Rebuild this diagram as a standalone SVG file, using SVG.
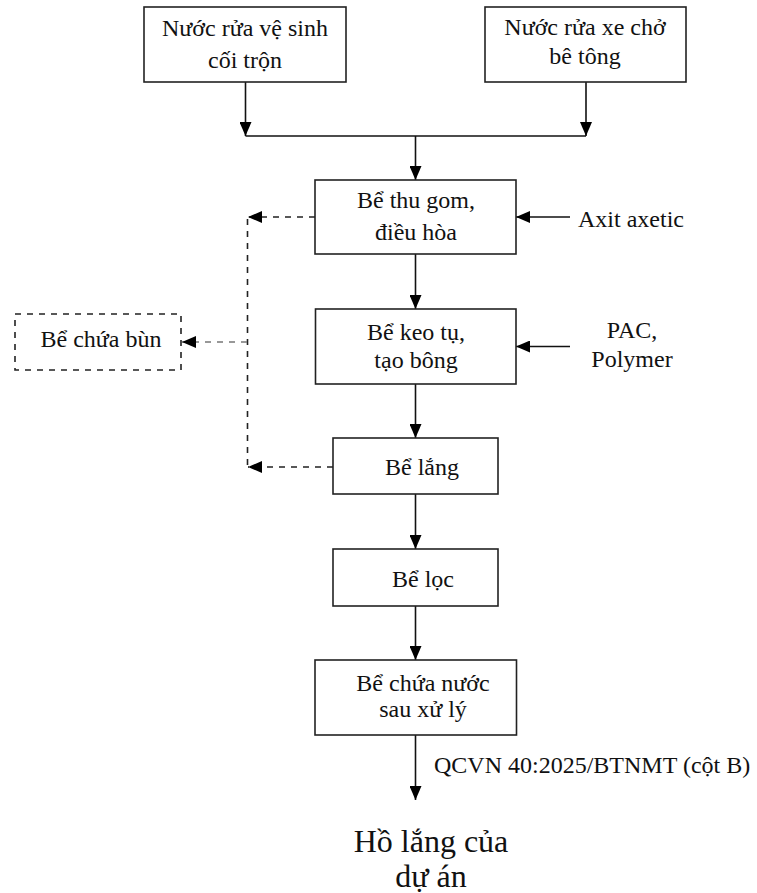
<svg xmlns="http://www.w3.org/2000/svg" width="757" height="893" viewBox="0 0 757 893">
<style>
  text { font-family: "Liberation Serif", "Times New Roman", serif; font-size: 24px; fill: #111; }
  .c { text-anchor: middle; }
  .box { fill: #fff; stroke: #222; stroke-width: 1.6; }
  .dbox { fill: #fff; stroke: #222; stroke-width: 1.6; stroke-dasharray: 6 6; }
  .ln { fill: none; stroke: #111; stroke-width: 1.6; }
  .dl { fill: none; stroke: #222; stroke-width: 1.6; stroke-dasharray: 6 6; }
  .gl { fill: none; stroke: #777; stroke-width: 1.6; stroke-dasharray: 6 6; }
  .big { font-size: 32px; }
</style>
<defs>
  <marker id="ah" viewBox="0 0 14 12" refX="14" refY="6" markerWidth="14" markerHeight="12" markerUnits="userSpaceOnUse" orient="auto">
    <path d="M0 0 L14 6 L0 12 Z" fill="#000" stroke="none"/>
  </marker>
</defs>
<g id="connectors">
  <path class="ln" d="M245.5 82 V136" marker-end="url(#ah)"/>
  <path class="ln" d="M586 82 V136" marker-end="url(#ah)"/>
  <path class="ln" d="M245.5 136 H586"/>
  <path class="ln" d="M415.5 136 V180" marker-end="url(#ah)"/>
  <path class="ln" d="M415.5 254 V309" marker-end="url(#ah)"/>
  <path class="ln" d="M415.5 384 V438" marker-end="url(#ah)"/>
  <path class="ln" d="M415.5 494 V549" marker-end="url(#ah)"/>
  <path class="ln" d="M415.5 606 V660" marker-end="url(#ah)"/>
  <path class="ln" d="M415.5 735 V800" marker-end="url(#ah)"/>
  <path class="ln" d="M570 217 H516" marker-end="url(#ah)"/>
  <path class="ln" d="M570 346.5 H516" marker-end="url(#ah)"/>
  <path class="dl" d="M315 217 H248" marker-end="url(#ah)"/>
  <path class="dl" d="M333 467 H248" marker-end="url(#ah)"/>
  <path class="dl" d="M247.5 219 V467"/>
  <path class="gl" d="M247 342 H182" marker-end="url(#ah)"/>
</g>
<g id="n-nuoc-rua-coi-tron">
  <rect class="box" x="144" y="7" width="202" height="75"/>
  <text class="c" x="245" y="36">Nước rửa vệ sinh</text>
  <text class="c" x="245" y="68">cối trộn</text>
</g>
<g id="n-nuoc-rua-xe">
  <rect class="box" x="485" y="7" width="201" height="75"/>
  <text class="c" x="585" y="35">Nước rửa xe chở</text>
  <text class="c" x="585" y="64">bê tông</text>
</g>
<g id="n-thu-gom">
  <rect class="box" x="315" y="180" width="201" height="74"/>
  <text class="c" x="416" y="208">Bể thu gom,</text>
  <text class="c" x="416" y="240">điều hòa</text>
</g>
<g id="n-axit">
  <text x="578" y="227">Axit axetic</text>
</g>
<g id="n-keo-tu">
  <rect class="box" x="315.5" y="309" width="200.5" height="75"/>
  <text class="c" x="416" y="340">Bể keo tụ,</text>
  <text class="c" x="416" y="368">tạo bông</text>
</g>
<g id="n-pac">
  <text class="c" x="632" y="338">PAC,</text>
  <text class="c" x="632" y="367">Polymer</text>
</g>
<g id="n-chua-bun">
  <rect class="dbox" x="15" y="314" width="166" height="56"/>
  <text class="c" x="101" y="347">Bể chứa bùn</text>
</g>
<g id="n-lang">
  <rect class="box" x="333" y="438" width="165" height="56"/>
  <text class="c" x="422" y="475">Bể lắng</text>
</g>
<g id="n-loc">
  <rect class="box" x="333" y="549" width="165" height="57"/>
  <text class="c" x="423" y="587">Bể lọc</text>
</g>
<g id="n-chua-nuoc">
  <rect class="box" x="315" y="660" width="201.5" height="75"/>
  <text class="c" x="423" y="691">Bể chứa nước</text>
  <text class="c" x="423" y="717">sau xử lý</text>
</g>
<g id="n-qcvn">
  <text x="434" y="773">QCVN 40:2025/BTNMT (cột B)</text>
</g>
<g id="n-ho-lang">
  <text class="c big" x="431" y="852">Hồ lắng của</text>
  <text class="c big" x="431" y="887">dự án</text>
</g>
</svg>
